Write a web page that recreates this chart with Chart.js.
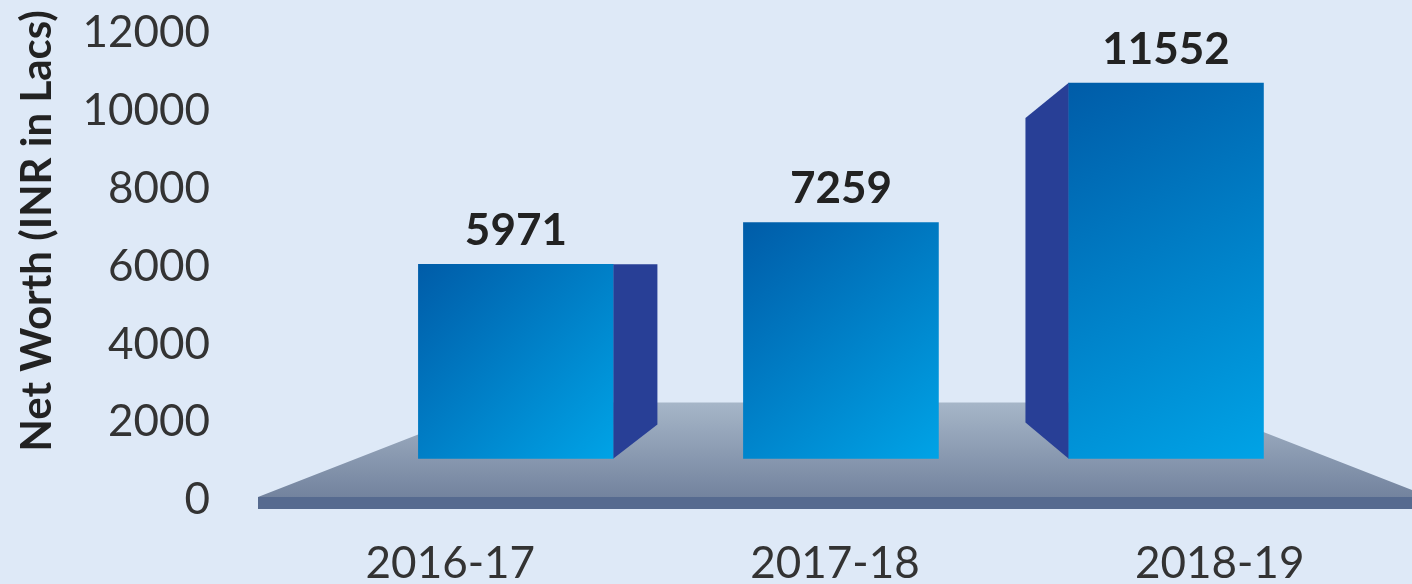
<!DOCTYPE html>
<html>
<head>
<meta charset="utf-8">
<script src="https://cdn.jsdelivr.net/npm/chart.js@4.4.1/dist/chart.umd.min.js"></script>
<style>
  html, body { margin: 0; padding: 0; background: #dee9f7; }
  #wrap { width: 1412px; height: 584px; }
</style>
</head>
<body>
<div id="wrap"><canvas id="myChart" width="1412" height="584"></canvas></div>
<script>
// data
var years = ['2016-17', '2017-18', '2018-19'];
var netWorth = [5971, 7259, 11552];
var yTicks = [0, 2000, 4000, 6000, 8000, 10000, 12000];
var yTitle = 'Net Worth (INR in Lacs)';

Chart.defaults.font.family = 'Lato';
Chart.defaults.color = '#333';

// flat "3d" platform under the bars
var platform = {
  id: 'platform',
  beforeDraw: function(chart) {
    var c = chart.ctx;
    c.save();
    c.fillStyle = '#dee9f7';
    c.fillRect(0, 0, chart.width, chart.height);
    c.restore();
  },
  beforeDatasetsDraw: function(chart) {
    var c = chart.ctx, a = chart.chartArea;
    var zero = chart.scales.y.getPixelForValue(0);
    var base = chart.scales.yb.getPixelForValue(0);
    var front = zero - 3, back = base - 56;
    var slope = 2.56, rx = a.right + 18;
    c.save();
    var g = c.createLinearGradient(0, back, 0, front);
    g.addColorStop(0, '#a6b6c8');
    g.addColorStop(1, '#73839e');
    c.fillStyle = g;
    c.beginPath();
    c.moveTo(a.left, front);
    c.lineTo(a.left + (front - back) * slope, back);
    c.lineTo(rx - (front - back) * slope, back);
    c.lineTo(rx, front);
    c.closePath();
    c.fill();
    c.fillStyle = '#566a8f';
    c.fillRect(a.left, front, rx - a.left, 12);
    c.restore();
  },
  afterDatasetsDraw: function(chart) {
    var c = chart.ctx;
    var bars = chart.getDatasetMeta(0).data;
    c.save();
    c.fillStyle = '#283f96';
    bars.forEach(function(b, i) {
      var p = b.getProps(['x', 'y', 'base', 'width'], true);
      var x1 = p.x - p.width / 2, x2 = p.x + p.width / 2;
      c.beginPath();
      if (i === 0) {
        c.moveTo(x2, p.y);
        c.lineTo(x2 + 44, p.y);
        c.lineTo(x2 + 44, p.base - 34);
        c.lineTo(x2, p.base);
      } else if (i === 2) {
        c.moveTo(x1, p.y);
        c.lineTo(x1 - 43, p.y + 35);
        c.lineTo(x1 - 43, p.base - 36);
        c.lineTo(x1, p.base);
      }
      c.closePath();
      c.fill();
    });
    // value labels
    c.fillStyle = '#222';
    c.font = 'bold 44px Lato';
    c.textAlign = 'center';
    c.textBaseline = 'alphabetic';
    bars.forEach(function(b, i) {
      c.fillText(String(netWorth[i]), b.x, b.y - 19);
    });
    c.restore();
  }
};

function barFill(context) {
  var chart = context.chart;
  var xs = chart.scales.xb, ys = chart.scales.yb;
  if (!chart.chartArea || !xs || !ys) return '#0080cc';
  var i = context.dataIndex;
  var cx = xs.getPixelForValue(i);
  var top = ys.getPixelForValue(netWorth[i]);
  var bot = ys.getPixelForValue(0);
  var g = chart.ctx.createLinearGradient(cx - 97, top, cx + 97, bot);
  g.addColorStop(0, '#005ca8');
  g.addColorStop(1, '#00a3e6');
  return g;
}

var ctx = document.getElementById('myChart').getContext('2d');
var myChart = new Chart(ctx, {
  type: 'bar',
  data: {
    labels: years,
    datasets: [{
      label: yTitle,
      data: netWorth.map(function(v, i) { return {x: i, y: v}; }),
      xAxisID: 'xb',
      yAxisID: 'yb',
      backgroundColor: barFill,
      borderWidth: 0,
      barThickness: 195
    }]
  },
  plugins: [platform],
  options: {
    responsive: false,
    animation: false,
    layout: { padding: { top: 33, right: 0, bottom: 0, left: 0 } },
    plugins: {
      legend: { display: false },
      tooltip: { enabled: false }
    },
    scales: {
      x: {
        type: 'category',
        position: 'bottom',
        grid: { display: false, drawTicks: false },
        border: { display: false },
        ticks: { font: { size: 44 }, color: '#333', padding: 37 },
        afterFit: function(s) { s.height = 84; s.paddingLeft = 0; s.paddingRight = 0; }
      },
      xb: {
        type: 'linear',
        display: false,
        offset: false,
        min: -0.7935,
        max: 2.757
      },
      y: {
        position: 'left',
        min: 0,
        max: 12000,
        afterBuildTicks: function(s) { s.ticks = yTicks.map(function(v) { return {value: v}; }); },
        grid: { display: false, drawTicks: false },
        border: { display: false },
        ticks: {
          font: { size: 44 },
          color: '#333',
          padding: 48,
          callback: function(v) { return String(v); }
        },
        title: {
          display: true,
          // leading spaces lift the centred title a little, like the original
          text: '       ' + yTitle,
          color: '#222',
          font: { size: 42, weight: 'bold' },
          padding: { top: 12, bottom: 0 }
        },
        afterFit: function(s) { s.width = 258; s.paddingTop = 0; s.paddingBottom = 0; }
      },
      yb: {
        type: 'linear',
        display: false,
        position: 'left',
        min: -1280,
        max: 13090
      }
    }
  }
});
</script>
</body>
</html>
